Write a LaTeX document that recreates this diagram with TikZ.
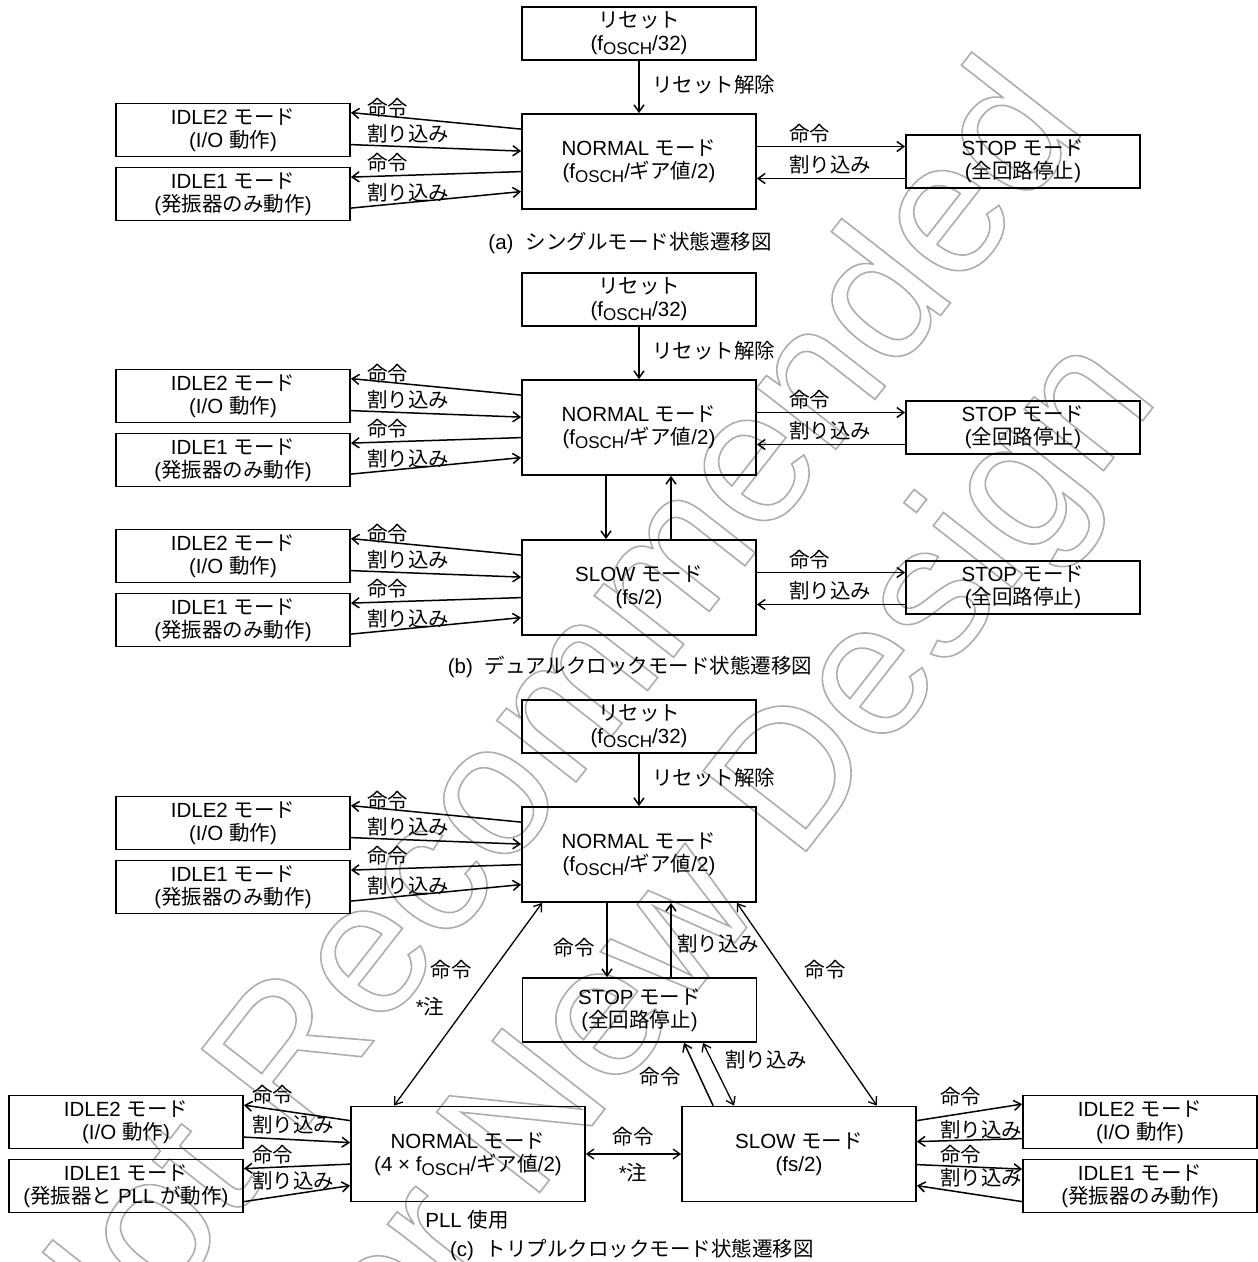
\documentclass[tikz,border=0pt]{standalone}
\usepackage{fontspec}
\setmainfont{Liberation Sans}
\newfontfamily\jpfont{Noto Sans CJK JP}
\usetikzlibrary{arrows.meta,positioning,calc}

\newcommand\jp[1]{{\jpfont #1}}
\newcommand\fosc{f\raisebox{-4pt}{\fontsize{17}{17}\selectfont OSCH}}
\newcommand\hollow[1]{\special{pdf:code 1 Tr 1.6 w}#1\special{pdf:code 0 Tr}}

\begin{document}
\begin{tikzpicture}[x=1pt, y=-1pt,
		every node/.style={font=\fontsize{20.5}{23}\selectfont, inner sep=0pt},
		modeBox/.style={
				draw, line width=1.8pt,
				minimum width=234pt, minimum height=53pt,
				align=center
			},
		bigBox/.style={modeBox, minimum height=95pt},
		lbl/.style={font=\jpfont\fontsize{20.5}{23}\selectfont},
		trans/.style={line width=1.5pt, -{Straight Barb[length=7pt,width=10pt]}},
		both/.style={line width=1.3pt, {Straight Barb[length=7pt,width=10pt]}-{Straight Barb[length=7pt,width=10pt]}},
		stamp/.style={rotate=52, align=center, text=black!32, font=\fontsize{190}{224}\selectfont}
	]
	\useasboundingbox (0,0) rectangle (1258,1262);

	% watermark
	\node[stamp] (wm) at (634,810) {\hollow{Not Recommended}\\\hollow{for New Design}};

	% (a) single mode
	\node[modeBox] (R1) at (639,33.5) {\jp{リセット}\\(\fosc/32)};
	\node[bigBox] (N1) at (639,161.5) {NORMAL \jp{モード}\\(\fosc/\jp{ギア値}/2)};
	\node[modeBox] (I1) at (233,130) {IDLE2 \jp{モード}\\(I/O \jp{動作})};
	\node[modeBox] (J1) at (233,194) {IDLE1 \jp{モード}\\(\jp{発振器のみ動作})};
	\node[modeBox] (S1) at (1023,161.5) {STOP \jp{モード}\\(\jp{全回路停止})};

	\draw[trans] (R1) -- (N1);
	\node[lbl, anchor=west] (r1) at (652,85) {リセット解除};

	\draw[trans] ($(N1.north west)+(0,16)$) -- ($(I1.north east)+(0,10)$);
	\draw[trans] ($(I1.north east)+(0,42)$) -- ($(N1.north west)+(0,38)$);
	\draw[trans] ($(N1.north west)+(0,58.5)$) -- ($(J1.north east)+(0,10.5)$);
	\draw[trans] ($(J1.north east)+(0,41.5)$) -- ($(N1.north west)+(0,78.5)$);
	\node[lbl, anchor=west] (i1c) at (367,108) {命令};
	\node[lbl, anchor=west] (i1i) at (367,133.5) {割り込み};
	\node[lbl, anchor=west] (j1c) at (367,163) {命令};
	\node[lbl, anchor=west] (j1i) at (367,192.5) {割り込み};

	\draw[trans] ($(N1.east)+(0,-15)$) -- ($(S1.west)+(0,-15)$);
	\draw[trans] ($(S1.west)+(0,17)$) -- ($(N1.east)+(0,17)$);
	\node[lbl, anchor=west] (s1c) at (789,134) {命令};
	\node[lbl, anchor=west] (s1i) at (789,165) {割り込み};

	\node (cap1) at (630,243) {(a)\hspace{12pt}\jp{シングルモード状態遷移図}};

	% (b) dual clock mode
	\begin{scope}[shift={(0,266)}]
		\node[modeBox] (R2) at (639,33.5) {\jp{リセット}\\(\fosc/32)};
		\node[bigBox] (N2) at (639,161.5) {NORMAL \jp{モード}\\(\fosc/\jp{ギア値}/2)};
		\node[modeBox] (I2) at (233,130) {IDLE2 \jp{モード}\\(I/O \jp{動作})};
		\node[modeBox] (J2) at (233,194) {IDLE1 \jp{モード}\\(\jp{発振器のみ動作})};
		\node[modeBox] (S2) at (1023,161.5) {STOP \jp{モード}\\(\jp{全回路停止})};

		\draw[trans] (R2) -- (N2);
		\node[lbl, anchor=west] (r2) at (652,85) {リセット解除};

		\draw[trans] ($(N2.north west)+(0,16)$) -- ($(I2.north east)+(0,10)$);
		\draw[trans] ($(I2.north east)+(0,42)$) -- ($(N2.north west)+(0,38)$);
		\draw[trans] ($(N2.north west)+(0,58.5)$) -- ($(J2.north east)+(0,10.5)$);
		\draw[trans] ($(J2.north east)+(0,41.5)$) -- ($(N2.north west)+(0,78.5)$);
		\node[lbl, anchor=west] (i2c) at (367,108) {命令};
		\node[lbl, anchor=west] (i2i) at (367,133.5) {割り込み};
		\node[lbl, anchor=west] (j2c) at (367,163) {命令};
		\node[lbl, anchor=west] (j2i) at (367,192.5) {割り込み};

		\draw[trans] ($(N2.east)+(0,-15)$) -- ($(S2.west)+(0,-15)$);
		\draw[trans] ($(S2.west)+(0,17)$) -- ($(N2.east)+(0,17)$);
		\node[lbl, anchor=west] (s2c) at (789,134) {命令};
		\node[lbl, anchor=west] (s2i) at (789,165) {割り込み};

		% slow row
		\begin{scope}[shift={(0,160)}]
			\node[bigBox] (L2) at (639,161.5) {SLOW \jp{モード}\\(fs/2)};
			\node[modeBox] (K2) at (233,130) {IDLE2 \jp{モード}\\(I/O \jp{動作})};
			\node[modeBox] (M2) at (233,194) {IDLE1 \jp{モード}\\(\jp{発振器のみ動作})};
			\node[modeBox] (T2) at (1023,161.5) {STOP \jp{モード}\\(\jp{全回路停止})};

			\draw[trans] ($(L2.north west)+(0,16)$) -- ($(K2.north east)+(0,10)$);
			\draw[trans] ($(K2.north east)+(0,42)$) -- ($(L2.north west)+(0,38)$);
			\draw[trans] ($(L2.north west)+(0,58.5)$) -- ($(M2.north east)+(0,10.5)$);
			\draw[trans] ($(M2.north east)+(0,41.5)$) -- ($(L2.north west)+(0,78.5)$);
			\node[lbl, anchor=west] (k2c) at (367,108) {命令};
			\node[lbl, anchor=west] (k2i) at (367,133.5) {割り込み};
			\node[lbl, anchor=west] (m2c) at (367,163) {命令};
			\node[lbl, anchor=west] (m2i) at (367,192.5) {割り込み};

			\draw[trans] ($(L2.east)+(0,-15)$) -- ($(T2.west)+(0,-15)$);
			\draw[trans] ($(T2.west)+(0,17)$) -- ($(L2.east)+(0,17)$);
			\node[lbl, anchor=west] (t2c) at (789,134) {命令};
			\node[lbl, anchor=west] (t2i) at (789,165) {割り込み};
		\end{scope}

		\draw[trans] ($(N2.south)+(-33,0)$) -- ($(L2.north)+(-33,0)$);
		\draw[trans] ($(L2.north)+(32,0)$) -- ($(N2.south)+(32,0)$);
	\end{scope}

	\node (cap2) at (630,667) {(b)\hspace{12pt}\jp{デュアルクロックモード状態遷移図}};

	% (c) triple clock mode
	\begin{scope}[shift={(0,693)}]
		\node[modeBox] (R3) at (639,33.5) {\jp{リセット}\\(\fosc/32)};
		\node[bigBox] (N3) at (639,161.5) {NORMAL \jp{モード}\\(\fosc/\jp{ギア値}/2)};
		\node[modeBox] (I3) at (233,130) {IDLE2 \jp{モード}\\(I/O \jp{動作})};
		\node[modeBox] (J3) at (233,194) {IDLE1 \jp{モード}\\(\jp{発振器のみ動作})};

		\draw[trans] (R3) -- (N3);
		\node[lbl, anchor=west] (r3) at (652,85) {リセット解除};

		\draw[trans] ($(N3.north west)+(0,16)$) -- ($(I3.north east)+(0,10)$);
		\draw[trans] ($(I3.north east)+(0,42)$) -- ($(N3.north west)+(0,38)$);
		\draw[trans] ($(N3.north west)+(0,58.5)$) -- ($(J3.north east)+(0,10.5)$);
		\draw[trans] ($(J3.north east)+(0,41.5)$) -- ($(N3.north west)+(0,78.5)$);
		\node[lbl, anchor=west] (i3c) at (367,108) {命令};
		\node[lbl, anchor=west] (i3i) at (367,133.5) {割り込み};
		\node[lbl, anchor=west] (j3c) at (367,163) {命令};
		\node[lbl, anchor=west] (j3i) at (367,192.5) {割り込み};
	\end{scope}

	\node[modeBox, minimum height=64pt] (T3) at (639.5,1010) {STOP \jp{モード}\\(\jp{全回路停止})};
	\node[bigBox] (P3) at (468,1154) {NORMAL \jp{モード}\\(4 × \fosc/\jp{ギア値}/2)};
	\node[bigBox] (L3) at (799,1154) {SLOW \jp{モード}\\(fs/2)};
	\node[modeBox] (I4) at (126,1122) {IDLE2 \jp{モード}\\(I/O \jp{動作})};
	\node[modeBox] (J4) at (126,1186) {IDLE1 \jp{モード}\\(\jp{発振器と} PLL \jp{が動作})};
	\node[modeBox] (K4) at (1140,1122) {IDLE2 \jp{モード}\\(I/O \jp{動作})};
	\node[modeBox] (M4) at (1140,1186) {IDLE1 \jp{モード}\\(\jp{発振器のみ動作})};
	\node (pll) at (467,1220) {PLL \jp{使用}};

	% normal <-> stop
	\draw[trans] ($(N3.south)+(-32,0)$) -- ($(T3.north)+(-32.5,0)$);
	\draw[trans] ($(T3.north)+(31.5,0)$) -- ($(N3.south)+(32,0)$);
	\node[lbl] (n3c) at (574,948) {命令};
	\node[lbl, anchor=west] (n3i) at (677,944) {割り込み};

	% normal <-> pll normal, normal <-> slow
	\draw[both] ($(N3.south west)+(21,0)$) -- ($(P3.north west)+(44,0)$);
	\node[lbl] (p3c) at (451,970) {命令};
	\node (p3n) at (430,1007) {*\jp{注}};
	\draw[both] ($(N3.south east)+(-20,0)$) -- ($(L3.north east)+(-40,0)$);
	\node[lbl] (l3c) at (825,970) {命令};

	% slow <-> stop
	\draw[trans] ($(L3.north west)+(32,0)$) -- ($(T3.south)+(44.5,0)$);
	\draw[both] ($(T3.south)+(63.5,0)$) -- ($(L3.north west)+(53,0)$);
	\node[lbl] (t3c) at (660,1077) {命令};
	\node[lbl, anchor=west] (t3i) at (725,1060) {割り込み};

	% pll normal <-> slow
	\draw[both] (P3) -- (L3);
	\node[lbl] (pl3c) at (633,1137) {命令};
	\node (pl3n) at (633,1173) {*\jp{注}};

	% left idle pair
	\draw[trans] ($(P3.north west)+(0,15)$) -- ($(I4.north east)+(0,10.5)$);
	\draw[trans] ($(I4.north east)+(0,42.5)$) -- ($(P3.north west)+(0,37)$);
	\draw[trans] ($(P3.north west)+(0,58.5)$) -- ($(J4.north east)+(0,10)$);
	\draw[trans] ($(J4.north east)+(0,43)$) -- ($(P3.north west)+(0,80)$);
	\node[lbl, anchor=west] (i4c) at (252,1095) {命令};
	\node[lbl, anchor=west] (i4i) at (252,1125) {割り込み};
	\node[lbl, anchor=west] (j4c) at (252,1155) {命令};
	\node[lbl, anchor=west] (j4i) at (252,1181) {割り込み};

	% right idle pair
	\draw[trans] ($(L3.north east)+(0,15)$) -- ($(K4.north west)+(0,9.5)$);
	\draw[trans] ($(K4.north west)+(0,44)$) -- ($(L3.north east)+(0,36)$);
	\draw[trans] ($(L3.north east)+(0,59)$) -- ($(M4.north west)+(0,10.5)$);
	\draw[trans] ($(M4.north west)+(0,43)$) -- ($(L3.north east)+(0,80)$);
	\node[lbl, anchor=west] (k4c) at (940,1097) {命令};
	\node[lbl, anchor=west] (k4i) at (940,1130) {割り込み};
	\node[lbl, anchor=west] (m4c) at (940,1155) {命令};
	\node[lbl, anchor=west] (m4i) at (940,1178) {割り込み};

	\node (cap3) at (632,1250) {(c)\hspace{12pt}\jp{トリプルクロックモード状態遷移図}};
\end{tikzpicture}
\end{document}
